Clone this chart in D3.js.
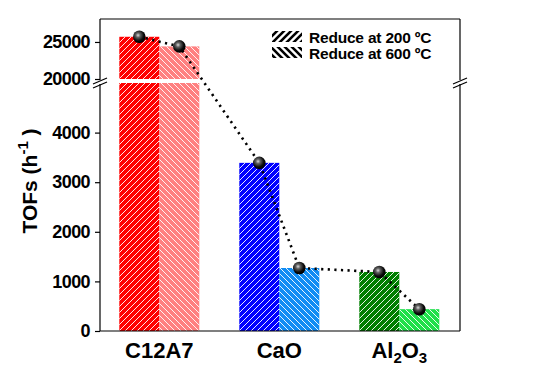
<!DOCTYPE html>
<html>
<head>
<meta charset="utf-8">
<script src="https://cdn.jsdelivr.net/npm/d3@7"></script>
<style>
  body { margin: 0; background: #fff; }
  text { font-family: Arial, "Liberation Sans", sans-serif; font-weight: bold; }
</style>
</head>
<body>
<svg id="chart"></svg>
<script>
// data
let categories = ['C12A7', 'CaO', 'Al2O3']
let series = ['Reduce at 200 \u00baC', 'Reduce at 600 \u00baC']
let tof200 = [25700, 3390, 1190]
let tof600 = [24400, 1270, 440]
let lowTicks = [0, 1000, 2000, 3000, 4000]
let highTicks = [20000, 25000]

let colors200 = ['#ff0000', '#0000ff', '#007f00']
let colors600 = ['#ff8080', '#108cf4', '#1ee04a']

let width = 537
let height = 373
let padLeft = 100, padRight = 460, padTop = 19, padBottom = 331
let lowTop = 83, highBottom = 79

let svg = d3.select('#chart').attr('width', width).attr('height', height)

// scales - groups every 120px, bars 40px each
let xScale = d3.scalePoint().domain(categories).range([159.3, 399.3])
let inner = d3.scaleBand().domain([0, 1]).range([-40, 40])
let yLow = d3.scaleLinear().domain([0, 5000]).range([padBottom, lowTop])
let yHigh = d3.scaleLinear().domain([20000, 28100]).range([highBottom, padTop])
let yVal = (v) => v <= 5000 ? yLow(v) : yHigh(v)

// patterns
let defs = svg.append('defs')
let makeHatch = (id, dir, color, gap, w) => {
  let p = defs.append('pattern').attr('id', id).attr('patternUnits', 'userSpaceOnUse')
    .attr('width', gap).attr('height', gap)
  if (dir > 0) {
    p.append('path').attr('d', `M0,${gap} L${gap},0 M${-gap/2},${gap/2} L${gap/2},${-gap/2} M${gap/2},${gap*1.5} L${gap*1.5},${gap/2}`)
  } else {
    p.append('path').attr('d', `M0,0 L${gap},${gap} M${-gap/2},${gap/2} L${gap/2},${gap*1.5} M${gap/2},${-gap/2} L${gap*1.5},${gap/2}`)
  }
  p.select('path').attr('stroke', color).attr('stroke-width', w)
}
makeHatch('hw200', 1, '#fff', 6, 0.9)
makeHatch('hw600', -1, '#fff', 6, 0.9)
makeHatch('hk200', 1, '#000', 7, 2.6)
makeHatch('hk600', -1, '#000', 7, 2.6)

let grad = defs.append('radialGradient').attr('id', 'ball').attr('cx', '40%').attr('cy', '38%').attr('r', '60%')
grad.append('stop').attr('offset', '0%').attr('stop-color', '#d8d8d8')
grad.append('stop').attr('offset', '30%').attr('stop-color', '#606060')
grad.append('stop').attr('offset', '75%').attr('stop-color', '#0a0a0a')
grad.append('stop').attr('offset', '100%').attr('stop-color', '#000')

// bars
let barData = []
categories.forEach((c, i) => {
  barData.push({cat: c, s: 0, v: tof200[i], color: colors200[i]})
  barData.push({cat: c, s: 1, v: tof600[i], color: colors600[i]})
})

let drawBarPart = (d, y0, y1) => {
  let x = xScale(d.cat) + inner(d.s)
  svg.append('rect').attr('x', x).attr('y', y1).attr('width', inner.bandwidth()).attr('height', y0 - y1)
    .attr('fill', d.color)
  svg.append('rect').attr('x', x).attr('y', y1).attr('width', inner.bandwidth()).attr('height', y0 - y1)
    .attr('fill', d.s === 0 ? 'url(#hw200)' : 'url(#hw600)')
}
barData.forEach((d) => {
  if (d.v <= 5000) {
    drawBarPart(d, yLow(0), yLow(d.v))
  } else {
    drawBarPart(d, yLow(0), yLow(5000))
    drawBarPart(d, yHigh(20000), yHigh(d.v))
  }
})

// frame
let frame = svg.append('g').attr('stroke', '#000').attr('stroke-width', 1.2).attr('fill', 'none')
frame.append('line').attr('x1', padLeft).attr('x2', padRight).attr('y1', padTop).attr('y2', padTop)
frame.append('line').attr('x1', padLeft).attr('x2', padRight).attr('y1', padBottom).attr('y2', padBottom)
;[padLeft, padRight].forEach((x) => {
  frame.append('line').attr('x1', x).attr('x2', x).attr('y1', padTop).attr('y2', 80)
  frame.append('line').attr('x1', x).attr('x2', x).attr('y1', 84).attr('y2', padBottom)
  frame.append('line').attr('x1', x - 7).attr('x2', x + 7).attr('y1', 84).attr('y2', 78)
  frame.append('line').attr('x1', x - 7).attr('x2', x + 7).attr('y1', 88).attr('y2', 82)
})

// axes
let axLow = svg.append('g').attr('transform', `translate(${padLeft},0)`)
  .call(d3.axisLeft(yLow).tickValues(lowTicks).tickSize(5).tickPadding(5).tickFormat(d3.format('d')))
let axHigh = svg.append('g').attr('transform', `translate(${padLeft},0)`)
  .call(d3.axisLeft(yHigh).tickValues(highTicks).tickSize(5).tickPadding(5).tickFormat(d3.format('d')))
;[axLow, axHigh].forEach((a) => {
  a.select('.domain').remove()
  a.selectAll('line').attr('stroke', '#000').attr('stroke-width', 1.2)
  a.selectAll('text').attr('font-size', 18).attr('font-family', 'Arial, "Liberation Sans", sans-serif')
    .attr('font-weight', 'bold').attr('fill', '#000').attr('letter-spacing', -0.6)
})

// category labels
categories.forEach((c) => {
  let t = svg.append('text').attr('x', xScale(c)).attr('y', 358).attr('text-anchor', 'middle')
    .attr('font-size', 22)
  if (c === 'Al2O3') {
    t.append('tspan').text('Al')
    t.append('tspan').attr('dy', 5).attr('font-size', 15).text('2')
    t.append('tspan').attr('dy', -5).text('O')
    t.append('tspan').attr('dy', 5).attr('font-size', 15).text('3')
  } else {
    t.text(c)
  }
})

// y title
let yt = svg.append('text').attr('transform', 'translate(37,181) rotate(-90)').attr('text-anchor', 'middle')
  .attr('font-size', 21)
yt.append('tspan').text('TOFs (h')
yt.append('tspan').attr('dy', -9).attr('font-size', 15).text('-1')
yt.append('tspan').attr('dy', 9).text(' )')

// dotted line + balls
let pts = []
categories.forEach((c, i) => {
  pts.push([xScale(c) + inner(0) + inner.bandwidth() / 2, yVal(tof200[i])])
  pts.push([xScale(c) + inner(1) + inner.bandwidth() / 2, yVal(tof600[i])])
})
svg.append('path').attr('d', d3.line()(pts)).attr('fill', 'none').attr('stroke', '#000')
  .attr('stroke-width', 2.6).attr('stroke-dasharray', '2.2,4.4')
svg.selectAll('circle.pt').data(pts).enter().append('circle').attr('class', 'pt')
  .attr('cx', (d) => d[0]).attr('cy', (d) => d[1]).attr('r', 6.3).attr('fill', 'url(#ball)')

// legend
series.forEach((s, i) => {
  let y = 31 + i * 16
  svg.append('rect').attr('x', 272).attr('y', y).attr('width', 30).attr('height', 11)
    .attr('fill', i === 0 ? 'url(#hk200)' : 'url(#hk600)')
  svg.append('text').attr('x', 309).attr('y', y + 11.5).attr('font-size', 15.5).attr('letter-spacing', -0.2).text(s)
})
</script>
</body>
</html>
